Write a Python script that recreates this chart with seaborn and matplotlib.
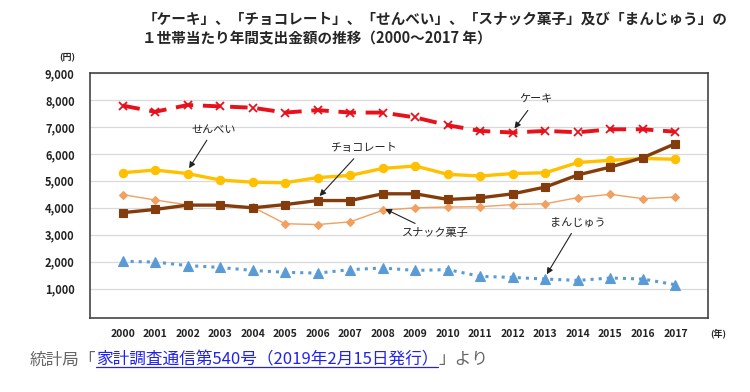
import matplotlib
matplotlib.use("Agg")
import matplotlib.pyplot as plt
import pandas as pd
import seaborn as sns

years = list(range(2000, 2018))
cake = [7790, 7560, 7810, 7760, 7710, 7530, 7620, 7530, 7530, 7350, 7060, 6850, 6790, 6850, 6800, 6910, 6910, 6820]
senbei = [5300, 5400, 5270, 5030, 4950, 4930, 5120, 5200, 5460, 5550, 5240, 5180, 5270, 5300, 5680, 5760, 5830, 5800]
choco = [3820, 3940, 4100, 4100, 4000, 4120, 4270, 4270, 4520, 4520, 4310, 4370, 4520, 4770, 5220, 5510, 5860, 6380]
snack = [4490, 4290, 4110, 4100, 4030, 3410, 3380, 3480, 3910, 4000, 4030, 4040, 4120, 4150, 4380, 4500, 4340, 4400]
manju = [2020, 1990, 1860, 1790, 1680, 1610, 1580, 1710, 1770, 1680, 1710, 1460, 1420, 1360, 1310, 1400, 1360, 1150]
yticks = [1000, 2000, 3000, 4000, 5000, 6000, 7000, 8000, 9000]

sns.set_theme(style="white")
plt.rcParams["font.family"] = ["Noto Sans CJK JP", "DejaVu Sans"]

df = pd.DataFrame({"year": years, "cake": cake, "senbei": senbei,
                   "choco": choco, "snack": snack, "manju": manju})

fig = plt.figure(figsize=(7.5, 3.92), dpi=100)
ax = fig.add_axes([0.12, 0.189, 0.824, 0.625])

# 線のスタイル: (列, 色, 線種, 太さ, マーカー, サイズ)
styles = [
    ("snack", "#F0A060", "-", 1.0, "D", 4.5),
    ("manju", "#5B9BD5", ":", 2.2, "^", 6.5),
    ("senbei", "#FFC000", "-", 2.4, "o", 6),
    ("choco", "#843C0C", "-", 2.4, "s", 6),
    ("cake", "#E8101A", (0, (4.5, 2.5)), 2.8, "x", 6),
]
for col, color, ls, lw, mk, ms in styles:
    sns.lineplot(data=df, x="year", y=col, ax=ax, color=color, linestyle=ls,
                 linewidth=lw, marker=mk, markersize=ms,
                 markeredgecolor=color, markerfacecolor=color,
                 markeredgewidth=1.3 if mk == "x" else 0.8)

ax.set_xlim(1999, 2018)
ax.set_ylim(-80, 9000)
ax.set_xticks(years)
ax.set_xticklabels([str(y) for y in years], fontsize=7.5, fontweight="bold", color="#222222")
ax.set_yticks(yticks)
ax.set_yticklabels([f"{v:,}" for v in yticks], fontsize=8, fontweight="bold", color="#222222")
ax.tick_params(axis="x", direction="in", length=4, width=0.8, color="#333333", pad=8)
ax.tick_params(axis="y", length=0, pad=11)
ax.set_xlabel("")
ax.set_ylabel("")
ax.yaxis.grid(True, color="#D9D9D9", linewidth=0.9)
ax.set_axisbelow(True)
for s in ax.spines.values():
    s.set_color("#444444")
    s.set_linewidth(1.2)

# 注釈
arrow = dict(arrowstyle="-|>", color="#222222", lw=0.8, mutation_scale=9)
notes = [
    ("ケーキ", 2012, 6860, 2012.7, 8000),
    ("せんべい", 2002, 5380, 2002.8, 6900),
    ("チョコレート", 2006, 4360, 2007.4, 6200),
    ("スナック菓子", 2008, 4000, 2009.6, 3070),
    ("まんじゅう", 2013, 1450, 2014.0, 3450),
]
for label, x0, y0, xt, yt in notes:
    ax.annotate(label, xy=(x0, y0), xytext=(xt, yt), fontsize=8,
                ha="center", va="center", color="#222222", arrowprops=arrow)

fig.text(0.0895, 0.853, "(円)", fontsize=6.5, fontweight="bold", ha="center", va="center")
fig.text(0.958, 0.150, "(年)", fontsize=6.5, fontweight="bold", ha="center", va="center")

fig.text(0.19, 0.953, "「ケーキ」、「チョコレート」、「せんべい」、「スナック菓子」及び「まんじゅう」の",
         fontsize=10.5, fontweight="bold", ha="left", va="center")
fig.text(0.19, 0.902, "１世帯当たり年間支出金額の推移（2000～2017 年）",
         fontsize=10.5, fontweight="bold", ha="left", va="center")

# 出典 (リンク部分は青・下線)
fig.canvas.draw()
renderer = fig.canvas.get_renderer()
x = 0.039
y = 0.082
parts = [("統計局「", "#666666", False),
         ("家計調査通信第540号（2019年2月15日発行）", "#2222EE", True),
         ("」より", "#666666", False)]
for txt, color, underline in parts:
    t = fig.text(x, y, txt, fontsize=12, color=color, ha="left", va="center")
    bb = t.get_window_extent(renderer).transformed(fig.transFigure.inverted())
    if underline:
        fig.add_artist(plt.Line2D([bb.x0, bb.x1], [bb.y0 + 0.004, bb.y0 + 0.004],
                                  transform=fig.transFigure, color=color, lw=0.9))
    x = bb.x1

fig.savefig("out.png", dpi=100)
